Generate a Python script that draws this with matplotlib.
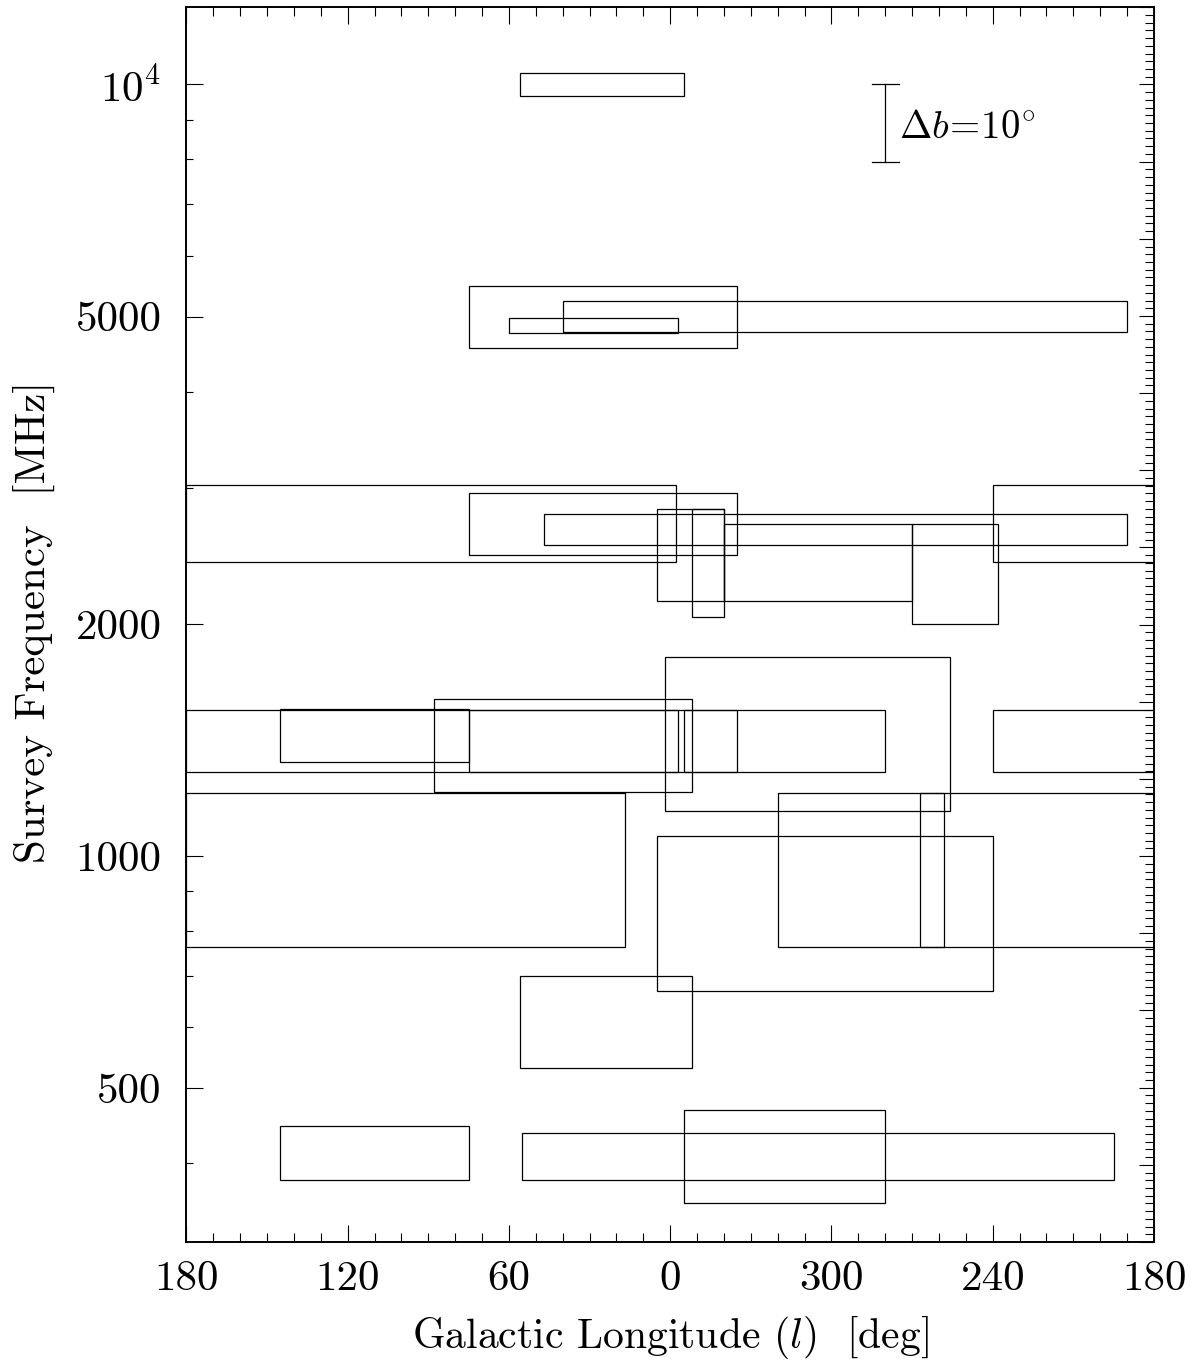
import numpy as np
import matplotlib
matplotlib.use("Agg")
import matplotlib.pyplot as plt
from matplotlib.patches import Rectangle
from matplotlib.ticker import MultipleLocator, NullFormatter, FixedLocator

plt.rcParams['font.family'] = ['cmr10', 'DejaVu Serif']
plt.rcParams['mathtext.fontset'] = 'cm'
plt.rcParams['axes.unicode_minus'] = False

# ---- survey data (frequency in MHz, longitude range in increasing-l sense, latitude range in deg)
freq_mhz = [10000, 5000, 4875, 5000,
            2695, 2695, 2650,
            2400, 2400, 2400, 2400,
            1440, 1410, 1420, 1390, 1410, 1410,
            960, 960, 843, 610,
            408, 408, 408]
l_from = [355, 335, 357, 190,
          358, 335, 190,
          340, 340, 270, 238,
          256, 280, 75, 352, 357, 335,
          17, 258, 240, 352,
          75, 195, 280]
l_to = [56, 75, 60, 40,
        240, 75, 47,
        5, 352, 340, 270,
        2, 240, 145, 88, 75, 355,
        320, 267, 5, 56,
        145, 55, 355]
b_lo = [-1.5, -4, -1, -2,
        -5, -4, -2,
        -5, -7, -5, -8,
        -10, -4, -3.0, -6, -4, -4,
        -10, -10, -10, -6,
        -3, -3, -6]
b_hi = [1.5, 4, 1, 2,
        5, 4, 2,
        7, 7, 5, 5,
        10, 4, 3.9, 6, 4, 4,
        10, 10, 10, 6,
        4, 3, 6]

xtick_pos = [180, 120, 60, 0, -60, -120, -180]
xtick_labels = ['180', '120', '60', '0', '300', '240', '180']
ytick_vals = [500, 1000, 2000, 5000, 10000]
ytick_labels = ['500', '1000', '2000', '5000', r'$10^4$']
yminor_vals = [400, 600, 700, 800, 900, 3000, 4000, 6000, 7000, 8000, 9000]

scalebar_l = 280      # longitude of the Delta b scale bar
scalebar_f = 10000    # top frequency of the scale bar
scalebar_db = 10      # degrees of latitude

DEX_PER_DEG = 0.01    # 10 deg of latitude == 0.1 dex in frequency


def wrap(l):
    return l if l <= 180 else l - 360


def spans(lf, lt):
    xf, xt = wrap(lf), wrap(lt)
    if xt > xf:
        return [(xf, xt)]
    return [(xf, 180), (-180, xt)]


W, H = 1202, 1360
fig = plt.figure(figsize=(W / 100, H / 100), dpi=100)
x0, x1 = 186.4, 1154.0
y0, y1 = 7.3, 1242.0
ax = fig.add_axes([x0 / W, 1 - y1 / H, (x1 - x0) / W, (y1 - y0) / H])

ylo, yhi = 10 ** 2.5, 10 ** 4.1
ax.set_yscale('log')
ax.set_xlim(180, -180)
ax.set_ylim(ylo, yhi)

for f, lf, lt, bl, bh in zip(freq_mhz, l_from, l_to, b_lo, b_hi):
    ybot = f * 10 ** (bl * DEX_PER_DEG)
    ytop = f * 10 ** (bh * DEX_PER_DEG)
    for xa, xb in spans(lf, lt):
        ax.add_patch(Rectangle((xa, ybot), xb - xa, ytop - ybot,
                               fill=False, edgecolor='black', lw=0.9,
                               clip_on=True))

# scale bar
xs = wrap(scalebar_l)
ybar_top = scalebar_f
ybar_bot = scalebar_f * 10 ** (-scalebar_db * DEX_PER_DEG)
ax.plot([xs, xs], [ybar_bot, ybar_top], color='black', lw=0.9)
ax.plot([xs + 5, xs - 5], [ybar_top, ybar_top], color='black', lw=0.9)
ax.plot([xs + 5, xs - 5], [ybar_bot, ybar_bot], color='black', lw=0.9)
ax.text(xs - 5, np.sqrt(ybar_top * ybar_bot) * 0.985, r'$\Delta b\!=\!10^{\circ}$',
        ha='left', va='center', fontsize=28)

# x axis ticks
ax.set_xticks(xtick_pos)
ax.set_xticklabels(xtick_labels)
ax.xaxis.set_minor_locator(MultipleLocator(10))

# y axis ticks (left)
ax.yaxis.set_major_locator(FixedLocator(ytick_vals))
ax.set_yticklabels(ytick_labels)
ax.yaxis.set_minor_locator(FixedLocator(yminor_vals))
ax.yaxis.set_minor_formatter(NullFormatter())

ax.tick_params(axis='x', which='both', direction='in', top=True, bottom=True,
               labelsize=31, pad=13)
ax.tick_params(axis='x', which='major', length=12.2, width=0.8)
ax.tick_params(axis='x', which='minor', length=6.3, width=0.8)
ax.tick_params(axis='y', which='both', direction='in', left=True, right=False,
               labelsize=31, pad=18)
ax.tick_params(axis='y', which='major', length=12.2, width=0.8)
ax.tick_params(axis='y', which='minor', length=5.0, width=0.8)

for s in ax.spines.values():
    s.set_linewidth(1.2)

# right axis: latitude scale ticks (1 deg minor, 10 deg major)
tw = ax.twinx()
tw.set_ylim(np.log10(ylo), np.log10(yhi))
tw.yaxis.set_major_locator(MultipleLocator(scalebar_db * DEX_PER_DEG))
tw.yaxis.set_minor_locator(MultipleLocator(DEX_PER_DEG))
tw.yaxis.set_major_formatter(NullFormatter())
tw.tick_params(axis='y', which='both', direction='in', left=False, right=True)
tw.tick_params(axis='y', which='major', length=10.8, width=0.8)
tw.tick_params(axis='y', which='minor', length=6.5, width=0.8)
for s in tw.spines.values():
    s.set_linewidth(1.2)

fig.text(34 / W, 1 - 622 / H, 'Survey Frequency  [MHz]', rotation=90,
         ha='center', va='center', fontsize=31)
fig.text(670 / W, 1 - 1348 / H, r'Galactic Longitude ($l$)  [deg]',
         ha='center', va='baseline', fontsize=30)

fig.savefig('out.png', dpi=100)
